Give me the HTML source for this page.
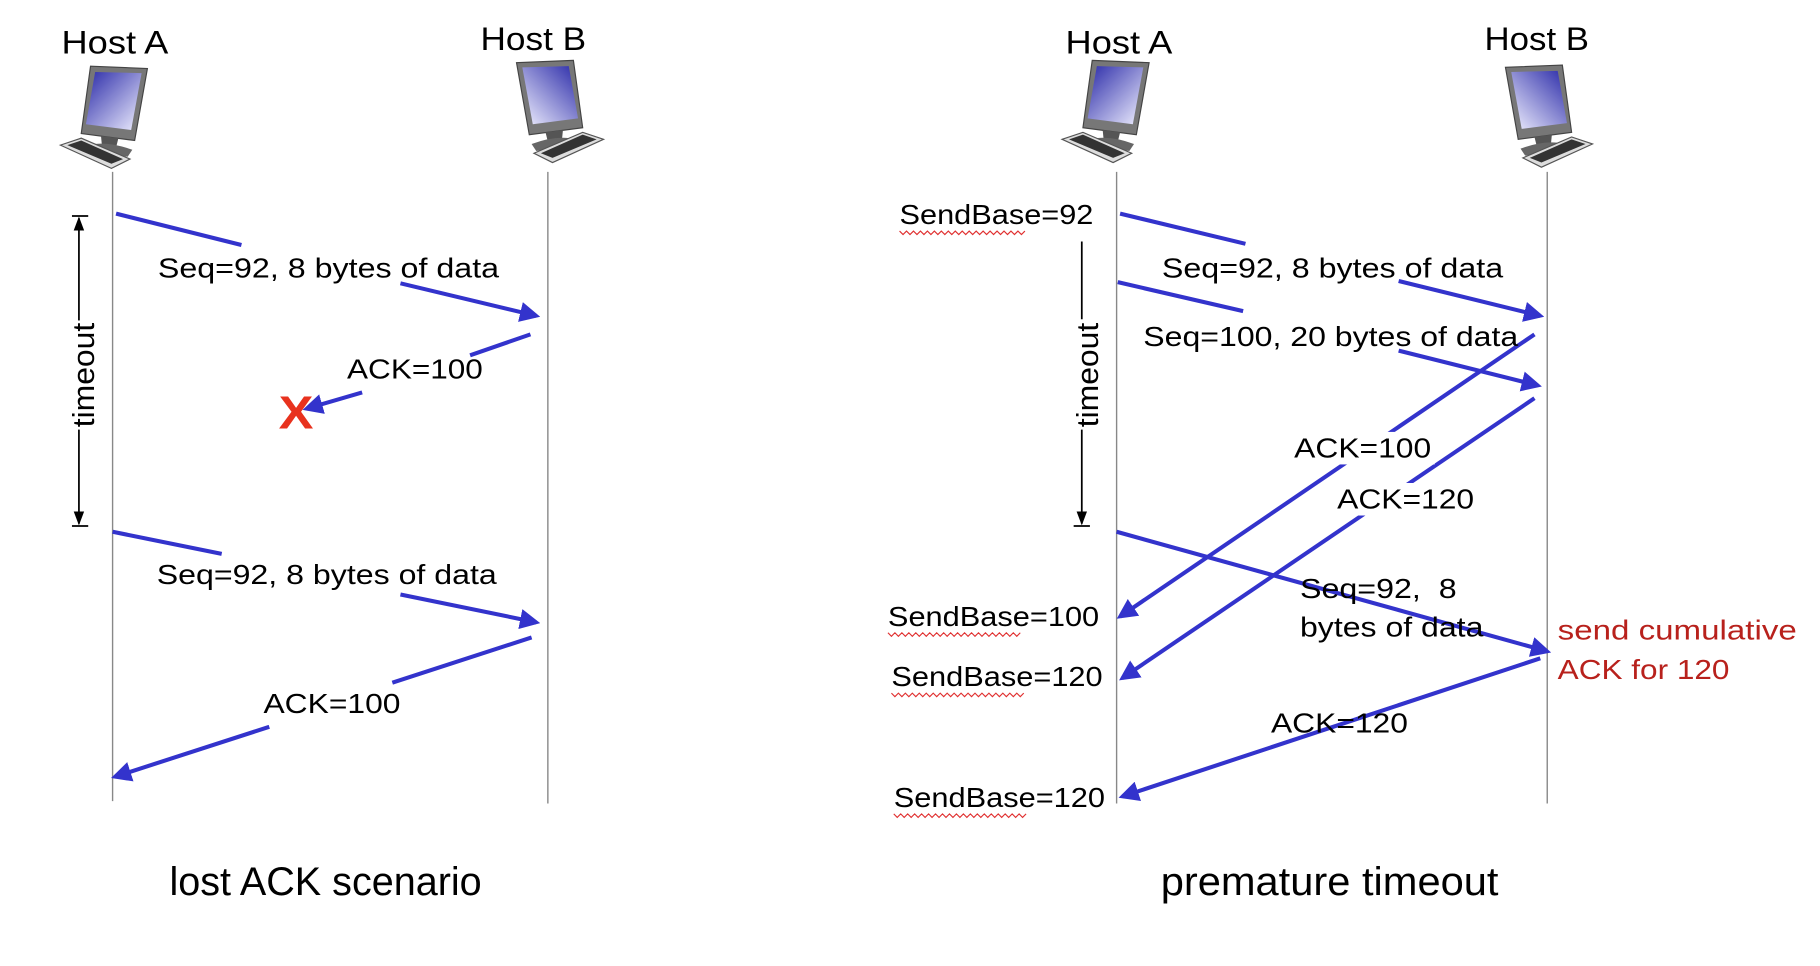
<!DOCTYPE html>
<html><head><meta charset="utf-8"><style>
html,body{margin:0;padding:0;background:#fff;}
svg{display:block;}
text{font-family:"Liberation Sans",sans-serif;fill:#000;}
</style></head><body>
<svg width="1820" height="966" viewBox="0 0 1568 832" preserveAspectRatio="none" xmlns="http://www.w3.org/2000/svg">
<defs>
<marker id="ah" markerWidth="5" markerHeight="5" refX="4" refY="2.5" orient="auto" markerUnits="strokeWidth">
<path d="M0,0 L5,2.5 L0,5 z" fill="#3333cc"/></marker>
<marker id="bk" markerWidth="8" markerHeight="8" refX="7" refY="4" orient="auto" markerUnits="strokeWidth">
<path d="M0,1 L8,4 L0,7 z" fill="#000"/></marker>
<linearGradient id="scr" x1="0" y1="0" x2="1" y2="1">
<stop offset="0" stop-color="#2a2aa8"/><stop offset="1" stop-color="#f0f0ff"/></linearGradient>
<g id="pc">
<path d="M26,0 L75,2 L64,64 L18,58 z" fill="#777" stroke="#444" stroke-width="1"/>
<path d="M30,5 L70,6 L61,55 L22,50 z" fill="url(#scr)"/>
<path d="M35,60 L50,62 L48,70 L36,70 z" fill="#555"/>
<path d="M24,68 Q40,64 62,72 L58,78 Q40,76 22,72 z" fill="#666"/>
<path d="M0,68 L18,62 L60,80 L44,88 z" fill="#ddd" stroke="#555" stroke-width="1"/>
<path d="M6,68 L18,64 L54,80 L44,84 z" fill="#333"/>
</g>
</defs>

<!-- left scenario -->
<text x="53" y="46" font-size="28" textLength="92" lengthAdjust="spacingAndGlyphs">Host A</text>
<text x="414" y="43" font-size="28" textLength="91" lengthAdjust="spacingAndGlyphs">Host B</text>
<use href="#pc" x="52" y="57"/>
<use href="#pc" transform="translate(520,52) scale(-1,1)"/>
<line x1="97" y1="148" x2="97" y2="690" stroke="#888" stroke-width="1.2"/>
<line x1="472" y1="148" x2="472" y2="692" stroke="#888" stroke-width="1.2"/>

<line x1="62" y1="186" x2="76" y2="186" stroke="#000" stroke-width="1.5"/>
<line x1="68" y1="276" x2="68" y2="188" stroke="#000" stroke-width="1.5" marker-end="url(#bk)"/>
<line x1="68" y1="370" x2="68" y2="451" stroke="#000" stroke-width="1.5" marker-end="url(#bk)"/>
<line x1="62" y1="453" x2="76" y2="453" stroke="#000" stroke-width="1.5"/>
<text transform="translate(81,368) rotate(-90)" font-size="26" textLength="90" lengthAdjust="spacingAndGlyphs">timeout</text>

<g stroke="#3333cc" stroke-width="3.5" fill="none">
<line x1="100" y1="184" x2="208" y2="211"/>
<line x1="345" y1="244" x2="462" y2="272" marker-end="url(#ah)"/>
<line x1="457" y1="288" x2="405" y2="306"/>
<line x1="312" y1="338" x2="264" y2="352" marker-end="url(#ah)"/>
<line x1="97" y1="458" x2="191" y2="477"/>
<line x1="345" y1="512" x2="462" y2="536" marker-end="url(#ah)"/>
<line x1="458" y1="549" x2="338" y2="588"/>
<line x1="232" y1="626" x2="99" y2="669" marker-end="url(#ah)"/>
</g>
<text x="136" y="239" font-size="24" textLength="294" lengthAdjust="spacingAndGlyphs">Seq=92, 8 bytes of data</text>
<text x="299" y="326" font-size="24" textLength="117" lengthAdjust="spacingAndGlyphs">ACK=100</text>
<text x="240" y="369" font-size="40" font-weight="bold" style="fill:#e8321e" textLength="30" lengthAdjust="spacingAndGlyphs">X</text>
<text x="135" y="503" font-size="24" textLength="293" lengthAdjust="spacingAndGlyphs">Seq=92, 8 bytes of data</text>
<text x="227" y="614" font-size="24" textLength="118" lengthAdjust="spacingAndGlyphs">ACK=100</text>
<text x="146" y="771" font-size="34" textLength="269" lengthAdjust="spacingAndGlyphs">lost ACK scenario</text>

<!-- right scenario -->
<text x="918" y="46" font-size="28" textLength="92" lengthAdjust="spacingAndGlyphs">Host A</text>
<text x="1279" y="43" font-size="28" textLength="90" lengthAdjust="spacingAndGlyphs">Host B</text>
<use href="#pc" x="915" y="52"/>
<use href="#pc" transform="translate(1372,56) scale(-1,1)"/>
<line x1="962" y1="148" x2="962" y2="692" stroke="#888" stroke-width="1.2"/>
<line x1="1333" y1="148" x2="1333" y2="692" stroke="#888" stroke-width="1.2"/>

<line x1="932" y1="208" x2="932" y2="275" stroke="#000" stroke-width="1.5"/>
<line x1="932" y1="370" x2="932" y2="451" stroke="#000" stroke-width="1.5" marker-end="url(#bk)"/>
<line x1="925" y1="453" x2="939" y2="453" stroke="#000" stroke-width="1.5"/>
<text transform="translate(946,368) rotate(-90)" font-size="26" textLength="90" lengthAdjust="spacingAndGlyphs">timeout</text>

<g stroke="#3333cc" stroke-width="3.5" fill="none">
<line x1="965" y1="184" x2="1073" y2="210"/>
<line x1="1205" y1="242" x2="1327" y2="272" marker-end="url(#ah)"/>
<line x1="963" y1="243" x2="1071" y2="268"/>
<line x1="1205" y1="302" x2="1325" y2="332" marker-end="url(#ah)"/>
<line x1="1322" y1="288" x2="965" y2="531" marker-end="url(#ah)"/>
<line x1="1322" y1="343" x2="967" y2="584" marker-end="url(#ah)"/>
</g>
<rect x="1112" y="372" width="124" height="28" fill="#fff"/>
<rect x="1149" y="416" width="124" height="28" fill="#fff"/>
<g stroke="#3333cc" stroke-width="3.5" fill="none">
<line x1="962" y1="458" x2="1333" y2="561" marker-end="url(#ah)"/>
<line x1="1327" y1="567" x2="967" y2="686" marker-end="url(#ah)"/>
</g>
<text x="775" y="193" font-size="24" textLength="167" lengthAdjust="spacingAndGlyphs">SendBase=92</text>
<text x="1001" y="239" font-size="24" textLength="294" lengthAdjust="spacingAndGlyphs">Seq=92, 8 bytes of data</text>
<text x="985" y="298" font-size="24" textLength="323" lengthAdjust="spacingAndGlyphs">Seq=100, 20 bytes of data</text>
<text x="1115" y="394" font-size="24" textLength="118" lengthAdjust="spacingAndGlyphs">ACK=100</text>
<text x="1152" y="438" font-size="24" textLength="118" lengthAdjust="spacingAndGlyphs">ACK=120</text>
<text x="1120" y="515" font-size="24" xml:space="preserve" textLength="135" lengthAdjust="spacingAndGlyphs">Seq=92,  8</text>
<text x="1120" y="548" font-size="24" textLength="158" lengthAdjust="spacingAndGlyphs">bytes of data</text>
<text x="765" y="539" font-size="24" textLength="182" lengthAdjust="spacingAndGlyphs">SendBase=100</text>
<text x="768" y="591" font-size="24" textLength="182" lengthAdjust="spacingAndGlyphs">SendBase=120</text>
<text x="1095" y="631" font-size="24" textLength="118" lengthAdjust="spacingAndGlyphs">ACK=120</text>
<text x="770" y="695" font-size="24" textLength="182" lengthAdjust="spacingAndGlyphs">SendBase=120</text>
<text x="1342" y="551" font-size="24" style="fill:#b8211c" textLength="206" lengthAdjust="spacingAndGlyphs">send cumulative</text>
<text x="1342" y="585" font-size="24" style="fill:#b8211c" textLength="148" lengthAdjust="spacingAndGlyphs">ACK for 120</text>
<text x="1000" y="771" font-size="34" textLength="291" lengthAdjust="spacingAndGlyphs">premature timeout</text>

<!-- wavy underlines -->
<g stroke="#e03030" stroke-width="1" fill="none">
<path d="M775,199 l3,3 l3,-3 l3,3 l3,-3 l3,3 l3,-3 l3,3 l3,-3 l3,3 l3,-3 l3,3 l3,-3 l3,3 l3,-3 l3,3 l3,-3 l3,3 l3,-3 l3,3 l3,-3 l3,3 l3,-3 l3,3 l3,-3 l3,3 l3,-3 l3,3 l3,-3 l3,3 l3,-3 l3,3 l3,-3 l3,3 l3,-3 l3,3 l3,-3"/>
<path d="M765,545 l3,3 l3,-3 l3,3 l3,-3 l3,3 l3,-3 l3,3 l3,-3 l3,3 l3,-3 l3,3 l3,-3 l3,3 l3,-3 l3,3 l3,-3 l3,3 l3,-3 l3,3 l3,-3 l3,3 l3,-3 l3,3 l3,-3 l3,3 l3,-3 l3,3 l3,-3 l3,3 l3,-3 l3,3 l3,-3 l3,3 l3,-3 l3,3 l3,-3 l3,3 l3,-3"/>
<path d="M768,597 l3,3 l3,-3 l3,3 l3,-3 l3,3 l3,-3 l3,3 l3,-3 l3,3 l3,-3 l3,3 l3,-3 l3,3 l3,-3 l3,3 l3,-3 l3,3 l3,-3 l3,3 l3,-3 l3,3 l3,-3 l3,3 l3,-3 l3,3 l3,-3 l3,3 l3,-3 l3,3 l3,-3 l3,3 l3,-3 l3,3 l3,-3 l3,3 l3,-3 l3,3 l3,-3"/>
<path d="M770,701 l3,3 l3,-3 l3,3 l3,-3 l3,3 l3,-3 l3,3 l3,-3 l3,3 l3,-3 l3,3 l3,-3 l3,3 l3,-3 l3,3 l3,-3 l3,3 l3,-3 l3,3 l3,-3 l3,3 l3,-3 l3,3 l3,-3 l3,3 l3,-3 l3,3 l3,-3 l3,3 l3,-3 l3,3 l3,-3 l3,3 l3,-3 l3,3 l3,-3 l3,3 l3,-3"/>
</g>
</svg>
</body></html>
